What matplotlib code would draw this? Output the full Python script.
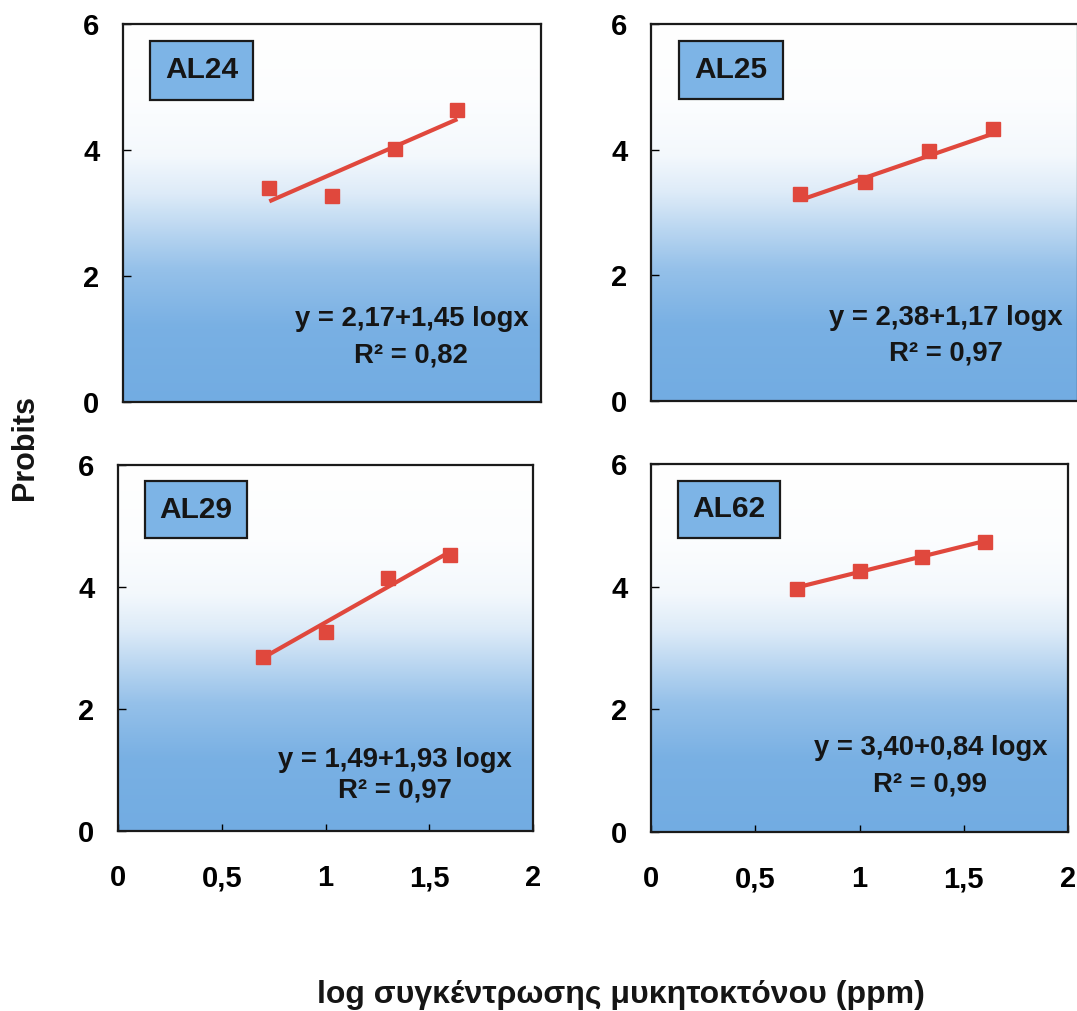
import numpy as np
import matplotlib
matplotlib.use("Agg")
import matplotlib.pyplot as plt
from matplotlib.colors import to_rgb
from matplotlib.patches import Rectangle

plt.rcParams['font.family'] = ['Liberation Sans', 'DejaVu Sans']
plt.rcParams['font.weight'] = 'bold'

# log concentration of fungicide (ppm) and probit values per isolate
log_conc = [0.70, 1.00, 1.30, 1.60]
isolates = ["AL24", "AL25", "AL29", "AL62"]
probits_al24 = [3.40, 3.27, 4.02, 4.63]
probits_al25 = [3.30, 3.49, 3.98, 4.33]
probits_al29 = [2.86, 3.27, 4.15, 4.52]
probits_al62 = [3.97, 4.26, 4.49, 4.73]
intercepts = [2.17, 2.38, 1.49, 3.40]
slopes = [1.45, 1.17, 1.93, 0.84]
r_squared = [0.82, 0.97, 0.97, 0.99]

x_ticks = [0, 0.5, 1, 1.5, 2]
x_tick_labels = ["0", "0,5", "1", "1,5", "2"]
y_ticks = [0, 2, 4, 6]

all_probits = [probits_al24, probits_al25, probits_al29, probits_al62]

W, H = 1077, 1011
fig = plt.figure(figsize=(W / 100, H / 100), dpi=100)

# panel rectangles in pixels: left, right, top, bottom
panel_px = [(123, 541, 24, 402), (651, 1078, 24, 401),
            (118, 533, 465, 831), (651, 1068, 464, 832)]
eq_pos = [(0.69, 0.22, 0.124), (0.69, 0.22, 0.125),
          (0.667, 0.194, 0.112), (0.67, 0.228, 0.128)]

red = "#e0483d"
blue = np.array(to_rgb("#72ace2"))
white = np.array([1.0, 1.0, 1.0])

# vertical white-to-blue background
stops = np.array([0.0, 0.2, 0.35, 0.45, 0.55, 0.65, 0.8, 1.0])
mix = np.array([0.0, 0.05, 0.25, 0.5, 0.76, 0.92, 0.98, 1.0])
yy = np.linspace(0, 1, 400)
w = np.interp(yy, stops, mix)[:, None]
grad = (blue * (1 - w) + white * w)[::-1][:, None, :]

for i, (l, r, t, b) in enumerate(panel_px):
    ax = fig.add_axes([l / W, (H - b) / H, (r - l) / W, (b - t) / H])
    ax.imshow(grad, extent=[0, 1, 0, 1], transform=ax.transAxes,
              aspect='auto', zorder=0, interpolation='bilinear')
    ax.set_xlim(0, 2)
    ax.set_ylim(0, 6)

    xs = np.array(log_conc)
    fit = intercepts[i] + slopes[i] * xs
    ax.plot(xs, fit, color=red, lw=3, zorder=3, solid_capstyle='butt')
    ax.plot(xs, all_probits[i], 's', color=red, ms=10.5, mec=red, zorder=4)

    # isolate label box
    ax.add_patch(Rectangle((0.065, 0.80), 0.245, 0.155, transform=ax.transAxes,
                           facecolor="#7db4e6", edgecolor="#1a1a1a", lw=1.6, zorder=5))
    ax.text(0.1875, 0.8775, isolates[i], transform=ax.transAxes, ha='center',
            va='center', fontsize=21.5, fontweight='bold', color="#151515", zorder=6)

    ex, ey1, ey2 = eq_pos[i]
    eq = f"y = {intercepts[i]:.2f}+{slopes[i]:.2f} logx".replace('.', ',')
    r2 = f"R² = {r_squared[i]:.2f}".replace('.', ',')
    ax.text(ex, ey1, eq, transform=ax.transAxes, ha='center', va='center',
            fontsize=19.8, fontweight='bold', color="#151515", zorder=6)
    ax.text(ex, ey2, r2, transform=ax.transAxes, ha='center', va='center',
            fontsize=19.8, fontweight='bold', color="#151515", zorder=6)

    for sp in ax.spines.values():
        sp.set_linewidth(1.6)
        sp.set_color("#1a1a1a")

    ax.set_yticks(y_ticks)
    ax.set_yticklabels([str(v) for v in y_ticks])
    ax.tick_params(axis='y', direction='in', length=6, width=1, pad=17,
                   labelsize=21, right=False)
    if i >= 2:
        ax.set_xticks(x_ticks)
        ax.set_xticklabels(x_tick_labels)
        ax.tick_params(axis='x', direction='in', length=5, width=1, pad=24,
                       labelsize=21, top=False)
    else:
        ax.set_xticks([])

fig.text(25 / W, (H - 447) / H, "Probits", rotation=90, ha='center', va='center',
         fontsize=22, fontweight='bold', color="#151515")
fig.text(621 / W, (H - 995) / H, "log συγκέντρωσης μυκητοκτόνου (ppm)",
         ha='center', va='center', fontsize=23, fontweight='bold', color="#151515")

fig.savefig("out.png", dpi=100, facecolor='white')
